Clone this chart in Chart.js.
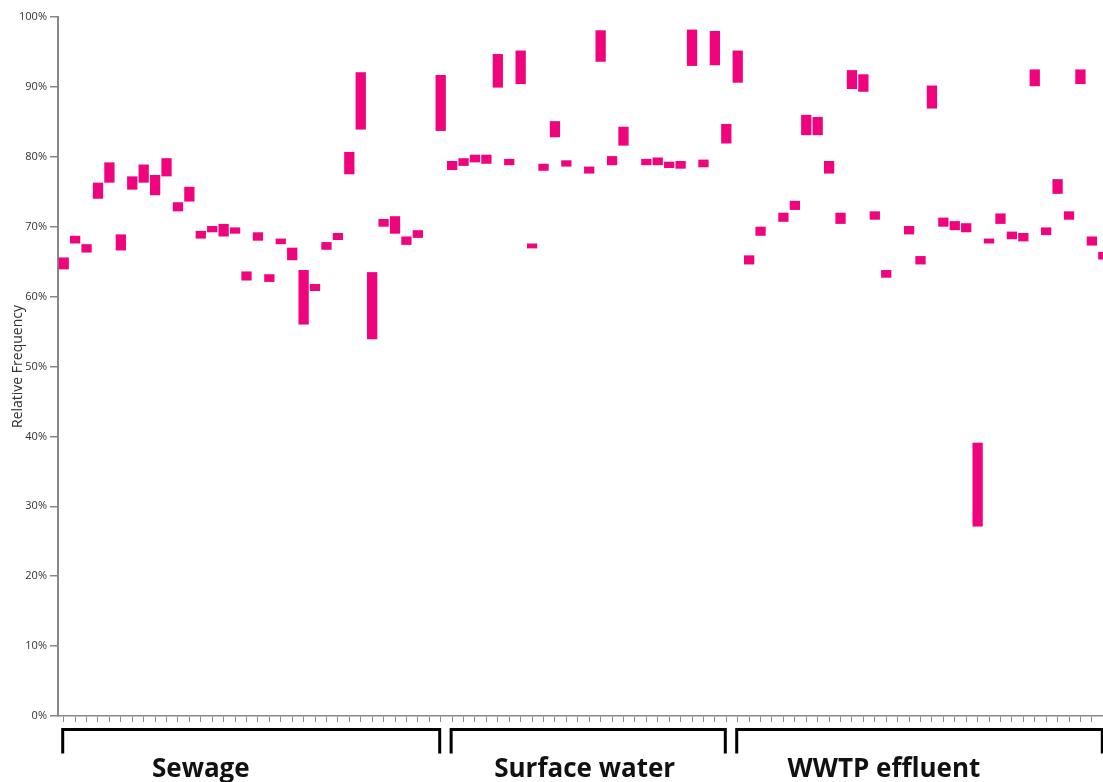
<!DOCTYPE html>
<html>
<head>
<meta charset="utf-8">
<title>Relative Frequency</title>
<script src="https://cdn.jsdelivr.net/npm/chart.js@4/dist/chart.umd.min.js"></script>
<style>
  html, body { margin: 0; padding: 0; background: #fff; }
  #wrap { width: 1103px; height: 782px; overflow: hidden; position: relative; }
  #chart { display: block; }
</style>
</head>
<body>
<div id="wrap"><canvas id="chart" width="1110" height="782"></canvas></div>
<script>
// ranges [low, high] in %, one per sample, null = no bar
var sewage = [
  [63.9, 65.6], [67.6, 68.7], [66.3, 67.5], [74.0, 76.3], [76.3, 79.2],
  [66.6, 68.9], [75.3, 77.2], [76.3, 78.9], [74.5, 77.4], [77.2, 79.8],
  [72.2, 73.5], [73.6, 75.7], [68.3, 69.4], [69.2, 70.1], [68.6, 70.4],
  [69.0, 69.9], [62.3, 63.6], [68.0, 69.2], [62.1, 63.2], [67.5, 68.3],
  [65.2, 67.0], [56.0, 63.8], [60.8, 61.8], [66.7, 67.8], [68.1, 69.1],
  [77.5, 80.7], [83.9, 92.1], [53.9, 63.5], [70.0, 71.1], [69.0, 71.5],
  [67.4, 68.6], [68.4, 69.5], null, [83.7, 91.7]
];
var surfaceWater = [
  [78.1, 79.4], [78.7, 79.8], [79.2, 80.3], [79.0, 80.3], [89.9, 94.7],
  [78.8, 79.7], [90.4, 95.2], [66.9, 67.6], [78.0, 79.0], [82.8, 85.1],
  [78.6, 79.5], null, [77.6, 78.6], [93.6, 98.1], [78.8, 80.1],
  [81.6, 84.3], null, [78.8, 79.7], [78.8, 79.9], [78.4, 79.3],
  [78.3, 79.4], [93.0, 98.2], [78.5, 79.6], [93.1, 98.0], [81.9, 84.7]
];
var effluent = [
  [90.6, 95.2], [64.6, 65.9], [68.7, 70.0], null, [70.7, 72.0],
  [72.4, 73.7], [83.1, 86.0], [83.1, 85.7], [77.6, 79.4], [70.4, 72.0],
  [89.7, 92.4], [89.3, 91.8], [71.0, 72.2], [62.7, 63.8], null,
  [68.9, 70.1], [64.6, 65.8], [86.9, 90.2], [70.0, 71.3], [69.5, 70.8],
  [69.2, 70.5], [27.1, 39.1], [67.6, 68.3], [70.4, 71.9], [68.2, 69.3],
  [67.9, 69.1], [90.1, 92.5], [68.8, 69.9], [74.7, 76.8], [71.0, 72.2],
  [90.4, 92.5], [67.3, 68.6], [65.3, 66.4]
];

var groupNames = ["Sewage", "Surface water", "WWTP effluent"];
var groupValues = [sewage, surfaceWater, effluent];
var groupLabelAt = [12, 45.6, 71.8]; // category position of the group caption
var yTicks = [0, 10, 20, 30, 40, 50, 60, 70, 80, 90, 100];

var labels = [];
var values = [];
var groups = [];
groupValues.forEach(function (arr, g) {
  var first = labels.length;
  arr.forEach(function (v, i) {
    labels.push(groupNames[g] + " " + (i + 1));
    values.push(v);
  });
  groups.push({ name: groupNames[g], first: first, last: labels.length - 1, at: groupLabelAt[g] });
});

var brackets = {
  id: 'brackets',
  afterDraw: function (chart) {
    var ctx = chart.ctx;
    var x = chart.scales.x;
    var top = chart.chartArea.bottom + 13.5;
    ctx.save();
    ctx.strokeStyle = '#000';
    ctx.lineWidth = 3;
    ctx.lineJoin = 'miter';
    groups.forEach(function (g) {
      var x0 = x.getPixelForValue(g.first) - 1;
      var x1 = x.getPixelForValue(g.last) - 1;
      ctx.beginPath();
      ctx.moveTo(x0, top + 24);
      ctx.lineTo(x0, top);
      ctx.lineTo(x1, top);
      ctx.lineTo(x1, top + 24);
      ctx.stroke();
      ctx.fillStyle = '#111';
      ctx.font = 'bold 26px "Open Sans"';
      ctx.textAlign = 'center';
      ctx.textBaseline = 'alphabetic';
      ctx.fillText(g.name, x.getPixelForValue(g.at), top + 47);
    });
    ctx.restore();
  }
};

new Chart(document.getElementById('chart'), {
  type: 'bar',
  data: {
    labels: labels,
    datasets: [{
      data: values,
      backgroundColor: '#EF047E',
      borderWidth: 0,
      barPercentage: 0.9,
      categoryPercentage: 1.0
    }]
  },
  options: {
    responsive: false,
    animation: false,
    devicePixelRatio: 1,
    layout: { padding: { top: 17, right: 1, left: 0, bottom: 0 } },
    plugins: { legend: { display: false }, tooltip: { enabled: false } },
    scales: {
      x: {
        offset: true,
        grid: { offset: false, drawOnChartArea: false, drawTicks: true, tickLength: 6, color: '#888', lineWidth: 1 },
        border: { color: '#888', width: 1.5 },
        ticks: { display: false, autoSkip: false },
        afterFit: function (s) { s.height = 66; }
      },
      y: {
        min: 0,
        max: 100,
        afterBuildTicks: function (s) { s.ticks = yTicks.map(function (v) { return { value: v }; }); },
        grid: { drawOnChartArea: false, tickLength: 8, color: '#888', lineWidth: 1.5 },
        border: { color: '#888', width: 2 },
        ticks: {
          padding: 3,
          color: '#333',
          font: { family: '"Open Sans"', size: 11 },
          callback: function (v) { return v + '%'; }
        },
        title: {
          display: true,
          text: 'Relative Frequency',
          color: '#333',
          font: { family: '"Open Sans"', size: 14 },
          padding: { top: 10, bottom: 0 }
        },
        afterFit: function (s) { s.width = 58; }
      }
    }
  },
  plugins: [brackets]
});
</script>
</body>
</html>
